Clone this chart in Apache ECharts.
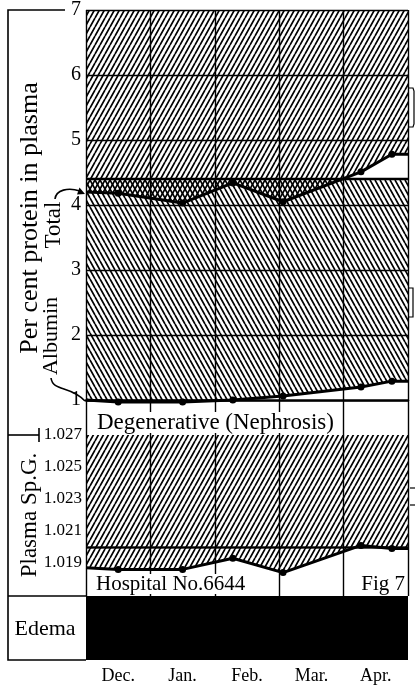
<!DOCTYPE html>
<html><head><meta charset="utf-8">
<script src="https://cdn.jsdelivr.net/npm/echarts@6/dist/echarts.min.js"></script>
<style>html,body{margin:0;padding:0;background:#fff}#c{width:415px;height:688px}</style>
</head><body><div id="c"></div>
<script>
// ---- data ----
const months = ['Dec.', 'Jan.', 'Feb.', 'Mar.', 'Apr.'];
// time in months from the start of December
const dates = [0, 0.5, 1.5, 2.28, 3.06, 4.27, 4.75, 5];
const totalProtein = [4.2, 4.18, 4.03, 4.34, 4.05, 4.51, 4.78, 4.78];
const albumin = [1.0, 0.97, 0.97, 1.0, 1.06, 1.2, 1.29, 1.29];
const specificGravity = [1.0187, 1.0186, 1.0186, 1.0193, 1.0184, 1.0201, 1.0199, 1.0199];
const normalTotal = 4.4;
const spgTicks = [1.019, 1.021, 1.023, 1.025, 1.027];
const edema = [1, 1, 1, 1, 1];

const FONT = '"Liberation Serif", "DejaVu Serif", serif';

function hatch(dir) {
  const p = 5, h = 9;
  const c = document.createElement('canvas');
  c.width = p; c.height = h;
  const ctx = c.getContext('2d');
  ctx.strokeStyle = '#000'; ctx.lineWidth = 1.7;
  ctx.beginPath();
  for (let k = -1; k <= 1; k++) {
    if (dir > 0) { ctx.moveTo(k * p, h); ctx.lineTo(k * p + p, 0); }
    else { ctx.moveTo(k * p, 0); ctx.lineTo(k * p + p, h); }
  }
  ctx.stroke();
  return { image: c, repeat: 'repeat' };
}
const hatchF = hatch(1), hatchB = hatch(-1);

const pairs = (ys) => dates.map((d, i) => [d, ys[i]]);
const last = dates.length - 1;
const sym = (v, p) => (p.dataIndex === 0 || p.dataIndex === last) ? 'none' : 'circle';

function rotText(text, x, y, size) {
  return { type: 'text', x: x, y: y, rotation: Math.PI / 2, z: 100,
    style: { text: text, font: size + 'px ' + FONT, fill: '#000',
      align: 'center', textAlign: 'center', verticalAlign: 'middle', textVerticalAlign: 'middle' } };
}
function txt(text, x, y, size, align) {
  return { type: 'text', x: x, y: y, z: 100,
    style: { text: text, font: size + 'px ' + FONT, fill: '#000',
      align: align, textAlign: align, verticalAlign: 'middle', textVerticalAlign: 'middle' } };
}
function pl(points, w) {
  return { type: 'polyline', z: 100, shape: { points: points },
    style: { stroke: '#000', lineWidth: w || 1.5, fill: null } };
}

const chart = echarts.init(document.getElementById('c'));
chart.setOption({
  animation: false,
  grid: [
    { left: 86, right: 7, top: 10, height: 586 },
    { left: 86, right: 7, top: 10, height: 390 },
    { left: 86, right: 7, top: 435, height: 160 },
    { left: 86, right: 7, top: 596, bottom: 28 }
  ],
  xAxis: [
    { gridIndex: 0, type: 'category', data: months, boundaryGap: true, z: 10,
      axisLine: { show: false }, axisTick: { show: false }, axisLabel: { show: false },
      splitLine: { show: true, lineStyle: { color: '#000', width: 1.4 } } },
    { gridIndex: 1, type: 'value', min: 0, max: 5, z: 10,
      axisLine: { show: true, onZero: false, lineStyle: { color: '#000', width: 2.5 } },
      axisTick: { show: false }, axisLabel: { show: false }, splitLine: { show: false } },
    { gridIndex: 2, type: 'value', min: 0, max: 5, show: false },
    { gridIndex: 3, type: 'category', data: months, boundaryGap: true,
      axisLine: { show: false }, axisTick: { show: false }, splitLine: { show: false },
      axisLabel: { fontFamily: FONT, fontSize: 18, color: '#000', margin: 7 } }
  ],
  yAxis: [
    { gridIndex: 0, type: 'value', show: false },
    { gridIndex: 1, type: 'value', min: 1, max: 7, interval: 1,
      axisLine: { show: false }, axisTick: { show: false },
      axisLabel: { fontFamily: FONT, fontSize: 20, color: '#000', margin: 5 },
      splitLine: { show: true, lineStyle: { color: '#000', width: 1.3 } } },
    { gridIndex: 2, type: 'value', min: 1.017, max: 1.027, interval: 0.001,
      axisLine: { show: false }, axisTick: { show: false }, splitLine: { show: false },
      axisLabel: { fontFamily: FONT, fontSize: 17, color: '#000', margin: 4,
        formatter: (v) => spgTicks.some(t => Math.round(t * 1000) === Math.round(v * 1000)) ? v.toFixed(3) : '' } },
    { gridIndex: 3, type: 'value', min: 0, max: 1, show: false }
  ],
  series: [
    { name: 'Total', type: 'line', xAxisIndex: 1, yAxisIndex: 1, data: pairs(totalProtein),
      clip: false, z: 5, symbol: sym, symbolSize: 7,
      itemStyle: { color: '#000' }, lineStyle: { color: '#000', width: 3 },
      areaStyle: { origin: 'end', color: hatchF, opacity: 1 } },
    { name: 'Normal total', type: 'line', xAxisIndex: 1, yAxisIndex: 1,
      data: pairs(dates.map(() => normalTotal)),
      clip: false, z: 3, symbol: 'none',
      lineStyle: { color: '#000', width: 2.5 },
      areaStyle: { origin: 'start', color: hatchB, opacity: 1 } },
    { name: 'Albumin', type: 'line', xAxisIndex: 1, yAxisIndex: 1, data: pairs(albumin),
      clip: false, z: 6, symbol: sym, symbolSize: 7,
      itemStyle: { color: '#000' }, lineStyle: { color: '#000', width: 3 },
      areaStyle: { origin: 'start', color: '#fff', opacity: 1 } },
    { name: 'Plasma Sp.G.', type: 'line', xAxisIndex: 2, yAxisIndex: 2, data: pairs(specificGravity),
      clip: false, z: 5, symbol: sym, symbolSize: 7,
      itemStyle: { color: '#000' }, lineStyle: { color: '#000', width: 3 },
      areaStyle: { origin: 'end', color: hatchF, opacity: 1 },
      markLine: { silent: true, symbol: ['none', 'none'], label: { show: false },
        lineStyle: { color: '#000', width: 1.3, type: 'solid' },
        data: spgTicks.map(t => ({ yAxis: t })) } },
    { name: 'Edema', type: 'bar', xAxisIndex: 3, yAxisIndex: 3, data: edema,
      barWidth: '104%', itemStyle: { color: '#000' } }
  ],
  graphic: [
    pl([[65, 10], [8, 10], [8, 660], [86, 660]], 1.6),
    pl([[8, 596], [86, 596]], 1.6),
    pl([[8, 435], [39, 435]], 1.6),
    pl([[39, 428], [39, 442]], 1.6),
    { type: 'rect', z: 90, shape: { x: 92, y: 412, width: 248, height: 21 }, style: { fill: '#fff' } },
    { type: 'rect', z: 90, shape: { x: 92, y: 574, width: 176, height: 20 }, style: { fill: '#fff' } },
    rotText('Per cent protein in plasma', 30, 218, 26),
    rotText('Total', 54, 225, 23),
    rotText('Albumin', 51, 336, 22),
    rotText('Plasma Sp.G.', 30, 515, 23),
    txt('Degenerative (Nephrosis)', 97, 423, 23, 'left'),
    txt('Hospital No.6644', 96, 584, 21, 'left'),
    txt('Fig 7', 405, 584, 21, 'right'),
    txt('Edema', 45, 629, 22, 'center'),
    { type: 'bezierCurve', z: 100, shape: { x1: 55, y1: 199, cpx1: 56, cpy1: 190, cpx2: 68, cpy2: 187, x2: 80, y2: 191 },
      style: { stroke: '#000', lineWidth: 1.6, fill: null } },
    { type: 'polygon', z: 100, shape: { points: [[85, 194], [77, 194.5], [79.5, 187.5]] }, style: { fill: '#000' } },
    { type: 'bezierCurve', z: 100, shape: { x1: 51, y1: 378, cpx1: 53, cpy1: 392, cpx2: 70, cpy2: 385, x2: 85, y2: 401 },
      style: { stroke: '#000', lineWidth: 1.6, fill: null } },
    pl([[408, 88], [413, 88], [414, 91], [414, 124], [413, 127], [408, 127]], 1.2),
    pl([[408, 288], [413, 288], [413, 317], [408, 317]], 1.2),
    pl([[410, 488], [415, 488]], 1.2),
    pl([[410, 505], [415, 505]], 1.2)
  ]
});
</script></body></html>
